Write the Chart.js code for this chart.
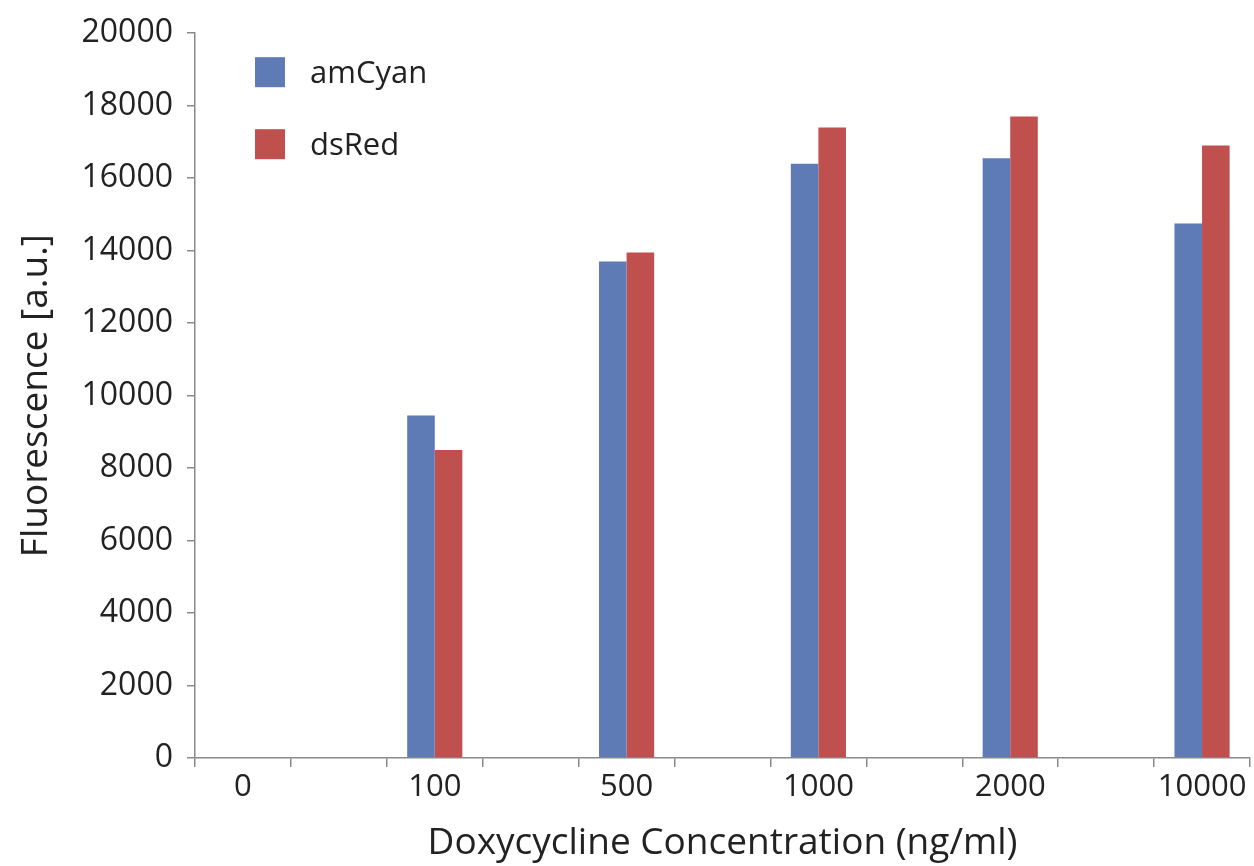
<!DOCTYPE html>
<html><head><meta charset="utf-8">
<script src="https://cdn.jsdelivr.net/npm/chart.js@4"></script>
<style>html,body{margin:0;padding:0;background:#fff}#wrap{width:1254px;height:866px}</style>
</head><body><div id="wrap"><canvas id="c"></canvas></div>
<script>
const categories = ['0', '', '100', '', '500', '', '1000', '', '2000', '', '10000'];
const amCyan = [0, null, 9450, null, 13700, null, 16400, null, 16550, null, 14750];
const dsRed = [0, null, 8500, null, 13950, null, 17400, null, 17700, null, 16900];
const seriesNames = ['amCyan', 'dsRed'];
const colors = ['#5E7BB5', '#C0504D'];
const yTicks = [0, 2000, 4000, 6000, 8000, 10000, 12000, 14000, 16000, 18000, 20000];
const FONT = "'Open Sans', sans-serif";

const legendPlugin = {
  id: 'insideLegend',
  afterDraw(chart) {
    const ctx = chart.ctx, a = chart.chartArea;
    ctx.save();
    chart.data.datasets.forEach((ds, i) => {
      const x = a.left + 60, y = a.top + 24 + i * 72;
      ctx.fillStyle = ds.backgroundColor;
      ctx.fillRect(x, y, 30, 30);
      ctx.fillStyle = '#222';
      ctx.font = "31px " + FONT;
      ctx.textBaseline = 'middle';
      ctx.fillText(ds.label, x + 55, y + 17);
    });
    ctx.restore();
  }
};

new Chart(document.getElementById('c'), {
  type: 'bar',
  data: {
    labels: categories,
    datasets: [
      { label: seriesNames[0], data: amCyan, backgroundColor: colors[0] },
      { label: seriesNames[1], data: dsRed, backgroundColor: colors[1] }
    ]
  },
  options: {
    responsive: true, maintainAspectRatio: false, animation: false,
    layout: { padding: { top: 32, right: 4, left: 0, bottom: 0 } },
    datasets: { bar: { categoryPercentage: 0.575, barPercentage: 1, skipNull: false } },
    plugins: { legend: { display: false }, tooltip: { enabled: false } },
    scales: {
      x: {
        offset: true,
        grid: { offset: true, drawOnChartArea: false, drawTicks: true, tickLength: 9, color: '#8a8a8a', lineWidth: 1.5 },
        border: { color: '#8a8a8a', width: 1.5 },
        ticks: { autoSkip: false, maxRotation: 0, color: '#222', font: { family: FONT, size: 31 }, padding: 2 },
        title: { display: true, text: 'Doxycycline Concentration (ng/ml)', color: '#222', font: { family: FONT, size: 37 }, padding: { top: 6, bottom: 0 } },
        afterFit(s) { s.height = 108; }
      },
      y: {
        min: 0, max: 20000,
        afterBuildTicks(s) { s.ticks = yTicks.map(v => ({ value: v })); },
        grid: { drawOnChartArea: false, drawTicks: true, tickLength: 8, color: '#8a8a8a', lineWidth: 1.5 },
        border: { color: '#8a8a8a', width: 1.5 },
        ticks: { color: '#222', font: { family: FONT, size: 32 }, padding: 14, callback: v => String(v) },
        title: { display: true, text: 'Fluorescence [a.u.]', color: '#222', font: { family: FONT, size: 37 }, padding: { top: 14, bottom: 0 } },
        afterFit(s) { s.width = 195; }
      }
    }
  },
  plugins: [legendPlugin]
});
</script>
</body></html>
